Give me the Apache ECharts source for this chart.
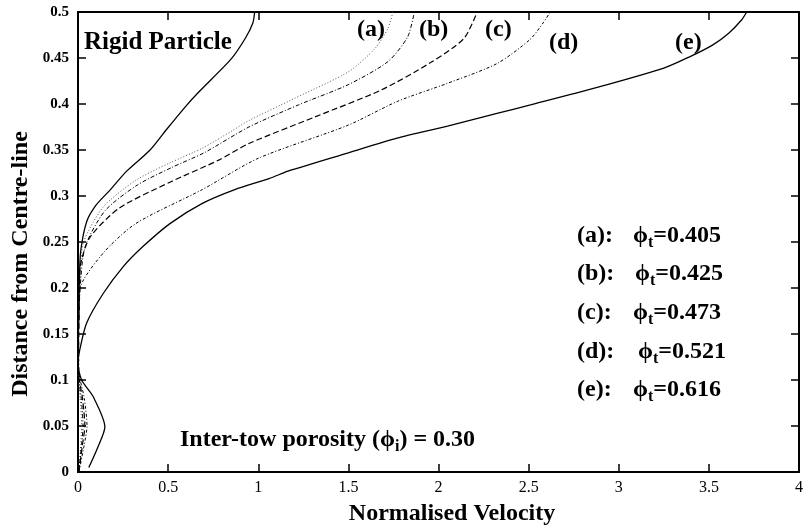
<!DOCTYPE html>
<html>
<head>
<meta charset="utf-8">
<script src="https://cdn.jsdelivr.net/npm/echarts@6/dist/echarts.min.js"></script>
<style>html,body{margin:0;padding:0;background:#fff}#c{width:806px;height:530px}</style>
</head>
<body>
<div id="c"></div>
<script>
// ---- data: [normalised velocity, distance from centre-line] ----
const rigidCurve = [[0,0.13],[0.004,0.17],[0.008,0.21],[0.015,0.24],[0.048,0.272],[0.10,0.29],[0.18,0.307],[0.27,0.327],[0.40,0.35],[0.49,0.372],[0.60,0.398],[0.67,0.413],[0.85,0.449],[0.93,0.472],[0.97,0.488],[0.98,0.5]];
const curveA = [[0.005,0],[0.015,0.03],[0.02,0.05],[0.012,0.08],[0,0.11],[0.002,0.15],[0.01,0.2],[0.03,0.249],[0.14,0.288],[0.32,0.317],[0.51,0.336],[0.69,0.352],[0.856,0.371],[0.948,0.382],[1.2,0.406],[1.5,0.435],[1.646,0.46],[1.719,0.482],[1.747,0.5]];
const curveB = [[0.005,0],[0.02,0.03],[0.028,0.05],[0.018,0.08],[0,0.11],[0.003,0.15],[0.012,0.2],[0.04,0.245],[0.15,0.284],[0.33,0.312],[0.52,0.331],[0.7,0.347],[0.948,0.375],[1.223,0.399],[1.499,0.421],[1.719,0.446],[1.829,0.473],[1.866,0.5]];
const curveC = [[0.005,0],[0.025,0.03],[0.038,0.05],[0.025,0.08],[0.002,0.11],[0.004,0.15],[0.008,0.2],[0.012,0.223],[0.066,0.255],[0.23,0.287],[0.51,0.315],[0.78,0.339],[0.948,0.357],[1.315,0.386],[1.68,0.415],[1.956,0.445],[2.14,0.471],[2.215,0.5]];
const curveD = [[0.005,0],[0.035,0.03],[0.05,0.05],[0.035,0.08],[0.005,0.11],[0.004,0.15],[0.01,0.198],[0.14,0.238],[0.32,0.27],[0.69,0.307],[1.0,0.341],[1.499,0.377],[1.774,0.403],[2.05,0.4225],[2.325,0.444],[2.507,0.47],[2.58,0.488],[2.62,0.5]];
const curveE = [[0.06,0.005],[0.11,0.027],[0.149,0.049],[0.084,0.082],[0.02,0.1],[0.0,0.118],[0.01,0.133],[0.048,0.162],[0.14,0.194],[0.25,0.223],[0.36,0.245],[0.51,0.27],[0.69,0.292],[0.87,0.307],[1.06,0.319],[1.18,0.328],[1.50,0.347],[1.77,0.363],[2.05,0.376],[2.33,0.39],[2.51,0.399],[2.88,0.418],[3.25,0.439],[3.39,0.451],[3.52,0.464],[3.61,0.477],[3.68,0.491],[3.71,0.5]];
const curveLabels = ['(a)','(b)','(c)','(d)','(e)'];
const tubePorosity = ['0.405','0.425','0.473','0.521','0.616'];
const interTowPorosity = '0.30';
const xRange = [0, 4], xStep = 0.5;
const yRange = [0, 0.5], yStep = 0.05;
const xTitle = 'Normalised Velocity';
const yTitle = 'Distance from Centre-line';
const rigidLabel = 'Rigid Particle';

const FF = '"Liberation Serif","Times New Roman",serif';
const chart = echarts.init(document.getElementById('c'), null, {renderer:'canvas'});
const fmt = v => String(+v.toFixed(2));
const axisCommon = {
  axisLine:{show:true,onZero:false,lineStyle:{color:'#000',width:2}},
  axisTick:{show:true,inside:true,length:8,lineStyle:{color:'#000',width:1.5}},
  splitLine:{show:false}
};
function mkSeries(data, type, width, color){
  return {type:'line', data, xAxisIndex:0, yAxisIndex:0, showSymbol:false, symbol:'none', smooth:0.25,
    lineStyle:{color:color||'#000', width:width, type:type}, silent:true};
}
const labelTexts = [
  {text:curveLabels[0], x:357, y:30},
  {text:curveLabels[1], x:419, y:30},
  {text:curveLabels[2], x:485, y:30},
  {text:curveLabels[3], x:549, y:43},
  {text:curveLabels[4], x:675, y:43}
];
const rowsY = [236,274,313,352,390];
const rowsX = [577,577,577,577,577];
const phiX = [633,635,633,638,633];
const graphic = [];
labelTexts.forEach(l => graphic.push({type:'text', x:l.x, y:l.y, style:{text:l.text, font:'bold 24px '+FF, fill:'#000', verticalAlign:'middle'}}));
graphic.push({type:'text', x:84, y:43, style:{text:rigidLabel, font:'bold 25px '+FF, fill:'#000', verticalAlign:'middle'}});
const rich = {
  n:{fontFamily:FF, fontWeight:'bold', fontSize:24, fill:'#000', lineHeight:30},
  s:{fontFamily:FF, fontWeight:'bold', fontSize:16, fill:'#000', padding:[14,0,0,0], lineHeight:30}
};
curveLabels.forEach((c,i) => {
  graphic.push({type:'text', x:rowsX[i], y:rowsY[i], style:{text:c+':', font:'bold 24px '+FF, fill:'#000', verticalAlign:'middle'}});
  graphic.push({type:'text', x:phiX[i], y:rowsY[i], style:{text:'{n|ϕ}{s|t}{n|=' + tubePorosity[i] + '}', rich, verticalAlign:'middle'}});
});
graphic.push({type:'text', x:180, y:440, style:{text:'{n|Inter-tow porosity (ϕ}{s|i}{n|) = ' + interTowPorosity + '}', rich, verticalAlign:'middle'}});
graphic.push({type:'text', x:452, y:514, style:{text:xTitle, font:'bold 24px '+FF, fill:'#000', align:'center', verticalAlign:'middle'}});
graphic.push({type:'text', x:21, y:264, rotation:Math.PI/2, style:{text:yTitle, font:'bold 24px '+FF, fill:'#000', align:'center', verticalAlign:'middle'}});

chart.setOption({
  animation:false,
  backgroundColor:'#fff',
  grid:{left:78, right:2, top:12, bottom:58, containLabel:false},
  xAxis:[
    Object.assign({type:'value', position:'bottom', min:xRange[0], max:xRange[1], interval:xStep,
      axisLabel:{show:true, margin:8, color:'#000', fontFamily:FF, fontSize:16, formatter:fmt, showMaxLabel:true}}, axisCommon),
    Object.assign({type:'value', position:'top', min:xRange[0], max:xRange[1], interval:xStep,
      axisLabel:{show:false}}, axisCommon)
  ],
  yAxis:[
    Object.assign({type:'value', position:'left', min:yRange[0], max:yRange[1], interval:yStep,
      axisLabel:{show:true, margin:9, color:'#000', fontFamily:FF, fontWeight:'bold', fontSize:15, formatter:fmt}}, axisCommon),
    Object.assign({type:'value', position:'right', min:yRange[0], max:yRange[1], interval:yStep,
      axisLabel:{show:false}}, axisCommon)
  ],
  series:[
    mkSeries(rigidCurve,'solid',1.3),
    mkSeries(curveA,[1,2],1,'#555'),
    mkSeries(curveB,[4,2,1,2],1),
    mkSeries(curveC,[6,3],1.2),
    mkSeries(curveD,[3,2,1,2],1),
    mkSeries(curveE,'solid',1.3)
  ],
  graphic
});
</script>
</body>
</html>
